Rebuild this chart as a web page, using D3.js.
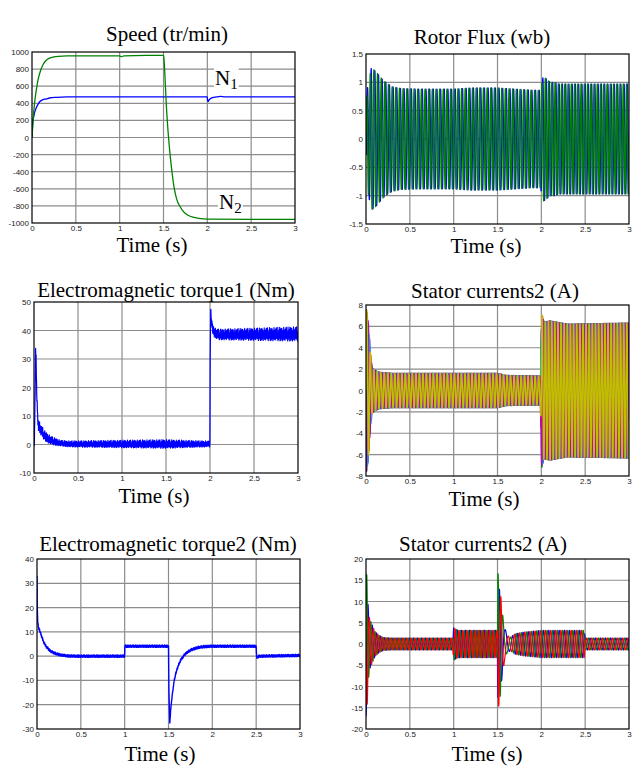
<!DOCTYPE html>
<meta charset="utf-8">
<style>
    body { margin: 0; background: #fff; }
    .tick text { font: 8px "Liberation Sans", Arial, sans-serif; fill: #222; }
    .title, .xlabel, .tag { font-family: "Liberation Serif", "Times New Roman", serif; font-size: 21px; fill: #000; }
    .grid line { stroke: #8c8c8c; stroke-width: 1.2; }
    .frame { fill: none; stroke: #000; stroke-width: 1.2; }
    .trace { fill: none; stroke-linejoin: round; }
</style>
<body>
<script src="https://cdn.jsdelivr.net/npm/d3@7"></script>
<script>
    // ---- shared ----
    var timeTicks = [0, 0.5, 1, 1.5, 2, 2.5, 3];
    // hand-typed ripple shape used for the torque noise band (values read as -1..1)
    var ripple = [0.3, -0.8, 0.6, -0.2, 1.0, -0.6, 0.1, -1.0, 0.7, -0.4, 0.9, -0.9, 0.2, -0.3, 0.8, -0.7, 0.5, -1.0, 0.4,
                  0.0, -0.5, 1.0, -0.8, 0.6, -0.1, 0.3, -0.9, 0.7, -0.6, 0.9, -0.2, 0.4, -0.7, 1.0, -0.4, 0.2, -1.0];

    // ---- Speed (tr/min) ----
    var speedTicks = [-1000, -800, -600, -400, -200, 0, 200, 400, 600, 800, 1000];
    var speedN1 = [[0,0],[0.005,120],[0.011,200],[0.02,245],[0.03,295],[0.05,350],[0.07,390],[0.088,418],[0.12,440],
        [0.164,452],[0.2,462],[0.28,470],[0.4,475],[1.0,475],[1.998,475],[2.003,435],[2.008,420],[2.02,440],[2.04,458],
        [2.07,470],[2.1,474],[2.15,480],[2.2,475],[3.0,475]];
    var speedN2 = [[0,0],[0.01,160],[0.02,300],[0.03,410],[0.05,560],[0.07,680],[0.1,790],[0.13,860],[0.16,900],
        [0.2,928],[0.25,942],[0.3,950],[0.4,955],[1.0,955],[1.02,945],[1.05,955],[1.3,960],[1.5,960],[1.505,930],
        [1.515,750],[1.53,420],[1.545,170],[1.56,-30],[1.58,-250],[1.6,-430],[1.62,-580],[1.65,-720],[1.69,-810],
        [1.73,-870],[1.78,-910],[1.85,-935],[1.92,-950],[2.0,-955],[3.0,-958]];

    // ---- Rotor Flux (wb): envelope + electrical frequency ----
    var fluxTicks = [-1.5, -1, -0.5, 0, 0.5, 1, 1.5];
    var fluxEnvT = [0, 0.01, 0.03, 0.06, 0.09, 0.12, 0.16, 0.2, 0.25, 0.3, 0.4, 0.6, 1.0, 1.2, 1.5, 1.7, 1.9, 1.99, 2.02, 2.05, 2.1, 2.15, 2.2, 2.3, 3.0];
    var fluxEnvA = [0.3, 0.85, 1.0, 1.25, 1.22, 1.18, 1.1, 1.03, 0.97, 0.92, 0.89, 0.88, 0.88, 0.9, 0.9, 0.88, 0.86, 0.86, 1.1, 1.07, 1.0, 1.0, 0.97, 0.97, 0.97];
    var fluxFreqT = [0, 2, 2.05, 3];
    var fluxFreqF = [24, 24, 27, 27];

    // ---- Electromagnetic torque1 (Nm) ----
    var torque1Ticks = [-10, 0, 10, 20, 30, 40, 50];
    var torque1 = [[0,0],[0.005,2],[0.012,16],[0.018,33.5],[0.024,30],[0.03,19],[0.036,15],[0.042,9],[0.05,7],
        [0.07,5.5],[0.09,4.5],[0.12,3.2],[0.16,2.1],[0.2,1.4],[0.25,0.9],[0.3,0.5],[0.4,0.2],[1.999,0.2],[2.002,29],
        [2.008,47],[2.015,44],[2.03,40.5],[2.06,39],[2.1,38.6],[3.0,38.8]];
    var torque1NoiseT = [0, 0.05, 0.3, 1.0, 1.5, 1.99, 2.05, 3.0];
    var torque1NoiseA = [2.0, 2.0, 1.0, 1.3, 1.5, 1.0, 1.8, 2.5];

    // ---- Stator currents2 (A), six phases ----
    var cur6Ticks = [-8, -6, -4, -2, 0, 2, 4, 6, 8];
    var cur6EnvT = [0, 0.01, 0.03, 0.05, 0.07, 0.1, 0.15, 0.3, 1.0, 1.5, 1.6, 1.99, 2.005, 2.03, 2.1, 2.3, 3.0];
    var cur6EnvA = [7.6, 7.5, 6, 3.5, 2.1, 1.9, 1.7, 1.6, 1.6, 1.6, 1.4, 1.35, 7.2, 6.4, 6.5, 6.2, 6.3];
    var cur6FreqT = [0, 2, 2.05, 3];
    var cur6FreqF = [25, 25, 28, 28];

    // ---- Electromagnetic torque2 (Nm) ----
    var torque2Ticks = [-30, -20, -10, 0, 10, 20, 30, 40];
    var torque2 = [[0,33],[0.003,20],[0.008,14],[0.02,11.5],[0.03,10.7],[0.05,8.5],[0.076,5.8],[0.1,4.2],[0.15,2.2],
        [0.2,1.2],[0.27,0.5],[0.35,0.1],[0.45,0],[0.999,0],[1.002,4.1],[1.5,4.1],[1.505,-15],[1.515,-27.5],
        [1.525,-22],[1.546,-15],[1.565,-10],[1.584,-7],[1.61,-4],[1.64,-1.6],[1.68,0.5],[1.72,1.8],[1.77,2.8],
        [1.83,3.5],[1.9,3.9],[2.0,4.1],[2.5,4.1],[2.505,0],[2.51,-0.7],[2.53,0],[3.0,0.3]];
    var torque2NoiseT = [0, 3.0];
    var torque2NoiseA = [0.5, 0.5];

    // ---- Stator currents2 (A), three phases ----
    var cur3Ticks = [-20, -15, -10, -5, 0, 5, 10, 15, 20];
    var cur3EnvT = [0, 0.012, 0.02, 0.04, 0.06, 0.08, 0.1, 0.15, 0.2, 0.3, 0.99, 1.0, 1.05, 1.5, 1.505, 1.52, 1.535, 1.55, 1.58, 1.61, 1.65, 1.7, 1.8, 2.0, 2.49, 2.5, 3.0];
    var cur3EnvA = [17, 16, 10, 6, 5, 4, 3, 2, 1.5, 1.4, 1.4, 3.8, 3.2, 3.2, 17, 13, 12, 8, 4, 2, 1.6, 2.4, 2.8, 3.2, 3.2, 1.4, 1.4];
    var cur3FreqT = [0, 1.0, 1.5, 1.53, 1.58, 1.7, 3.0];
    var cur3FreqF = [21, 22, 24, 20, 9, 17, 17];

    var matlab = {blue: "#0000ff", green: "#008000", red: "#ff0000", cyan: "#00bfbf", magenta: "#bf00bf", yellow: "#bfbf00"};

    // carrier drawn under a read envelope (too many cycles to list one by one)
    function oscillate(envT, envA, freqT, freqF, shifts, start) {
        var env = d3.scaleLinear().domain(envT).range(envA).clamp(true);
        var freq = d3.scaleLinear().domain(freqT).range(freqF).clamp(true);
        var dt = 0.0005, ts = d3.range(0, 3 + dt / 2, dt);
        var theta = start * Math.PI / 180, ang = [];
        ts.forEach(function(t) { ang.push(theta); theta += 2 * Math.PI * freq(t) * dt; });
        return shifts.map(function(s) {
            return ts.map(function(t, i) { return [t, env(t) * Math.sin(ang[i] + s * Math.PI / 180)]; });
        });
    }

    // base curve plus the typed ripple
    function noisy(base, noiseT, noiseA) {
        var f = d3.scaleLinear().domain(base.map(function(d) { return d[0]; })).range(base.map(function(d) { return d[1]; }));
        var amp = d3.scaleLinear().domain(noiseT).range(noiseA).clamp(true);
        var pts = d3.range(0, 3, 0.003).map(function(t, i) { return [t, f(t) + ripple[i % ripple.length] * amp(t)]; });
        base.forEach(function(d) { pts.push([d[0], d[1]]); });
        return pts.sort(function(a, b) { return a[0] - b[0]; });
    }

    var flux = oscillate(fluxEnvT, fluxEnvA, fluxFreqT, fluxFreqF, [0, 90], -60);
    var cur6 = oscillate(cur6EnvT, cur6EnvA, cur6FreqT, cur6FreqF, [0, 120, 240, 30, 150, 270], 90);
    var cur3 = oscillate(cur3EnvT, cur3EnvA, cur3FreqT, cur3FreqF, [0, 120, 240], -90);

    var panels = [
        {key: "p1", title: "Speed (tr/min)", x0: 32, x1: 295, y0: 52, y1: 223, yDom: [-1000, 1000], yTicks: speedTicks,
         tx: 167, ty: 41, lx: 152, ly: 252, w: 1.3,
         series: [{d: speedN1, c: matlab.blue}, {d: speedN2, c: matlab.green}]},
        {key: "p2", title: "Rotor Flux (wb)", x0: 366, x1: 629, y0: 54, y1: 224, yDom: [-1.5, 1.5], yTicks: fluxTicks,
         tx: 482, ty: 44, lx: 486, ly: 253, w: 1.3,
         series: [{d: flux[0], c: matlab.blue}, {d: flux[1], c: matlab.green}]},
        {key: "p3", title: "Electromagnetic torque1 (Nm)", x0: 34, x1: 298, y0: 302, y1: 473, yDom: [-10, 50], yTicks: torque1Ticks,
         tx: 166, ty: 297, lx: 154, ly: 503, w: 1.2,
         series: [{d: noisy(torque1, torque1NoiseT, torque1NoiseA), c: matlab.blue}]},
        {key: "p4", title: "Stator currents2 (A)", x0: 366, x1: 629, y0: 305, y1: 476, yDom: [-8, 8], yTicks: cur6Ticks,
         tx: 495, ty: 298, lx: 484, ly: 506, w: 1.5,
         series: [{d: cur6[0], c: matlab.blue}, {d: cur6[1], c: matlab.green}, {d: cur6[2], c: matlab.red},
                  {d: cur6[3], c: matlab.cyan}, {d: cur6[4], c: matlab.magenta}, {d: cur6[5], c: matlab.yellow}]},
        {key: "p5", title: "Electromagnetic torque2 (Nm)", x0: 37, x1: 300, y0: 559, y1: 729, yDom: [-30, 40], yTicks: torque2Ticks,
         tx: 168, ty: 551, lx: 160, ly: 761, w: 1.4,
         series: [{d: noisy(torque2, torque2NoiseT, torque2NoiseA), c: matlab.blue}]},
        {key: "p6", title: "Stator currents2 (A)", x0: 366, x1: 629, y0: 559, y1: 729, yDom: [-20, 20], yTicks: cur3Ticks,
         tx: 483, ty: 551, lx: 487, ly: 761, w: 1.2,
         series: [{d: cur3[0], c: matlab.blue}, {d: cur3[1], c: matlab.green}, {d: cur3[2], c: matlab.red}]}
    ];

    var svg = d3.select("body").append("svg")
        .attr("width", 638)
        .attr("height", 769)
        .style("background", "#fff");

    panels.forEach(function(p) {
        var x = d3.scaleLinear().domain([0, 3]).range([p.x0, p.x1]);
        var y = d3.scaleLinear().domain(p.yDom).range([p.y1, p.y0]);
        var g = svg.append("g");

        svg.append("clipPath").attr("id", "clip-" + p.key)
            .append("rect").attr("x", p.x0).attr("y", p.y0).attr("width", p.x1 - p.x0).attr("height", p.y1 - p.y0);

        // grid
        var grid = g.append("g").attr("class", "grid");
        grid.selectAll("line.v").data(timeTicks.slice(1, -1)).join("line").attr("class", "v")
            .attr("x1", x).attr("x2", x).attr("y1", p.y0).attr("y2", p.y1);
        grid.selectAll("line.h").data(p.yTicks.slice(1, -1)).join("line").attr("class", "h")
            .attr("x1", p.x0).attr("x2", p.x1).attr("y1", y).attr("y2", y);

        // traces
        var line = d3.line().x(function(d) { return x(d[0]); }).y(function(d) { return y(d[1]); });
        if (p.key === "p1") line.curve(d3.curveMonotoneX);
        var traces = g.append("g").attr("clip-path", "url(#clip-" + p.key + ")");
        p.series.forEach(function(s) {
            traces.append("path").attr("class", "trace").attr("d", line(s.d))
                .attr("stroke", s.c).attr("stroke-width", p.w);
        });

        // frame
        g.append("rect").attr("class", "frame")
            .attr("x", p.x0).attr("y", p.y0).attr("width", p.x1 - p.x0).attr("height", p.y1 - p.y0);

        // axes
        g.append("g").attr("transform", "translate(0," + p.y1 + ")")
            .call(d3.axisBottom(x).tickValues(timeTicks).tickSize(0).tickPadding(2).tickFormat(function(d) { return String(d); }))
            .call(function(a) { a.select(".domain").remove(); });
        g.append("g").attr("transform", "translate(" + p.x0 + ",0)")
            .call(d3.axisLeft(y).tickValues(p.yTicks).tickSize(0).tickPadding(3).tickFormat(function(d) { return String(d); }))
            .call(function(a) { a.select(".domain").remove(); });

        // title and x label
        g.append("text").attr("class", "title").attr("x", p.tx).attr("y", p.ty)
            .attr("text-anchor", "middle").text(p.title);
        g.append("text").attr("class", "xlabel").attr("x", p.lx).attr("y", p.ly)
            .attr("text-anchor", "middle").text("Time (s)");

        // curve tags on the speed plot
        if (p.key === "p1") {
            [{n: "1", x: 215, y: 85}, {n: "2", x: 219, y: 209}].forEach(function(t) {
                var tag = g.append("g");
                var txt = tag.append("text").attr("class", "tag").attr("x", t.x).attr("y", t.y).text("N");
                txt.append("tspan").attr("dy", 4).attr("font-size", 15).text(t.n);
                var bb = txt.node().getBBox();
                tag.insert("rect", "text").attr("x", bb.x - 1).attr("y", bb.y).attr("width", bb.width + 2)
                    .attr("height", bb.height).attr("fill", "#fff");
            });
        }
    });
</script>
</body>
